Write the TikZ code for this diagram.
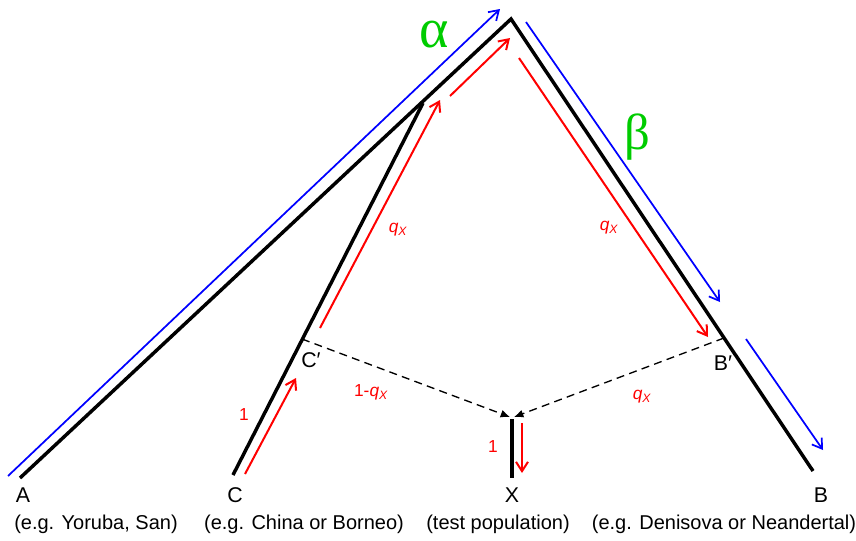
\documentclass[tikz,border=0pt]{standalone}
\usepackage{fontspec}
\setmainfont{Liberation Sans}
\newfontfamily\greekfont{Liberation Serif}
\usetikzlibrary{arrows.meta}
\definecolor{alphagreen}{RGB}{0,204,0}

\begin{document}
\begin{tikzpicture}[
    x=0.75pt, y=-0.75pt,
    branch/.style={line width=2.6pt, line join=miter, black},
    redflow/.style={line width=1.5pt, red, -{Straight Barb[length=7pt,width=9pt,line width=1.5pt]}},
    blueflow/.style={line width=1.3pt, blue, -{Straight Barb[length=7pt,width=9pt,line width=1.3pt]}},
    mix/.style={line width=1pt, dash pattern=on 6pt off 4pt, -{Latex[length=7pt,width=6pt]}},
    pop/.style={inner sep=0pt, font=\fontsize{16}{18}\selectfont},
    note/.style={inner sep=0pt, font=\fontsize{15}{18}\selectfont},
    prob/.style={inner sep=0pt, text=red, font=\fontsize{13}{15}\selectfont},
    param/.style={inner sep=0pt, text=alphagreen, font=\greekfont\fontsize{38}{40}\selectfont}
]
\useasboundingbox (0,0) rectangle (856,540);

\coordinate (top) at (511,19);
\coordinate (A) at (20,478);
\coordinate (join) at (423,103);
\coordinate (C) at (233,475);
\coordinate (B) at (813,471);
\coordinate (Cp) at (302,339);
\coordinate (Bp) at (724,338);
\coordinate (Xt) at (512,419);
\coordinate (Xb) at (512,478);
\coordinate (Xl) at (510,417);
\coordinate (Xr) at (514,417);

\draw[branch] (A) -- (top) -- (B);
\draw[branch] (C) -- (join);
\draw[branch] (Xt) -- (Xb);

\draw[mix] (Cp) -- (Xl);
\draw[mix] (Bp) -- (Xr);

\coordinate (rC1) at (245,474);  \coordinate (rC2) at (296,378);
\coordinate (rA1) at (320,328);  \coordinate (rA2) at (440,100);
\coordinate (rT1) at (450,96);   \coordinate (rT2) at (510,38);
\coordinate (rB1) at (519,58);   \coordinate (rB2) at (708,337);
\coordinate (rX1) at (522,423);  \coordinate (rX2) at (522,473);
\draw[redflow] (rC1) -- (rC2);
\draw[redflow] (rA1) -- (rA2);
\draw[redflow] (rT1) -- (rT2);
\draw[redflow] (rB1) -- (rB2);
\draw[redflow] (rX1) -- (rX2);

\coordinate (bA1) at (8,476);    \coordinate (bA2) at (500,9);
\coordinate (bB1) at (526,22);   \coordinate (bB2) at (720,302);
\coordinate (bB3) at (746,339);  \coordinate (bB4) at (823,450);
\draw[blueflow] (bA1) -- (bA2);
\draw[blueflow] (bB1) -- (bB2);
\draw[blueflow] (bB3) -- (bB4);

\node[param, font=\greekfont\fontsize{42}{44}\selectfont] (alpha) at (434,35) {α};
\node[param] (beta) at (637,137) {β};

\node[prob] (qCp) at (398,230) {\itshape q\textsubscript{X}};
\node[prob] (qBp) at (609,228) {\itshape q\textsubscript{X}};
\node[prob] (oneC) at (244,415) {1};
\node[prob] (oneX) at (493,447) {1};
\node[prob] (mixC) at (371,392) {1-\itshape q\textsubscript{X}};
\node[prob] (mixB) at (642,397) {\itshape q\textsubscript{X}};

\node[pop] (labCp) at (311,360) {C′};
\node[pop] (labBp) at (723,363) {B′};

\node[pop] (labA) at (23,495) {A};
\node[pop] (labC) at (235,495) {C};
\node[pop] (labX) at (512,495) {X};
\node[pop] (labB) at (821,495) {B};
\node[note] (noteA) at (96,524) {(e.g. Yoruba, San)};
\node[note] (noteC) at (304,524) {(e.g. China or Borneo)};
\node[note] (noteX) at (498,524) {(test population)};
\node[note] (noteB) at (724,524) {(e.g. Denisova or Neandertal)};

\end{tikzpicture}
\end{document}
